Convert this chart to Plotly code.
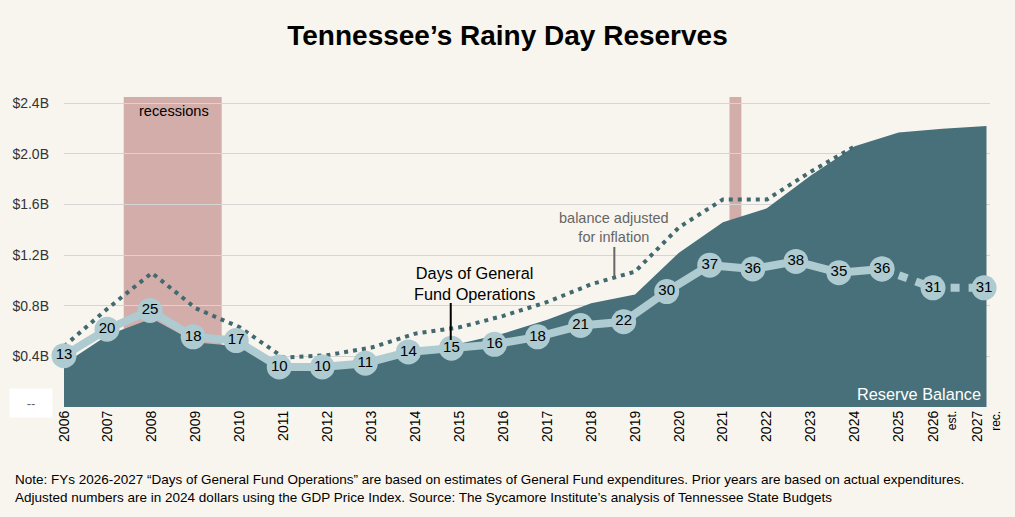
import plotly.graph_objects as go

# ---------------- data ----------------
years = list(range(2006, 2028))
year_labels = [str(y) for y in range(2006, 2026)] + [
    "2026<br><span style='font-size:12px'>est.</span>",
    "2027<br><span style='font-size:12px'>rec.</span>",
]
reserve_balance = [0.34, 0.57, 0.70, 0.51, 0.48, 0.32, 0.32, 0.38, 0.45, 0.50,
                   0.58, 0.69, 0.82, 0.89, 1.22, 1.46, 1.57, 1.83, 2.06, 2.17,
                   2.20, 2.22]
inflation_years = list(range(2006, 2025))
inflation_adjusted = [0.48, 0.78, 1.06, 0.78, 0.63, 0.39, 0.41, 0.47, 0.58, 0.63,
                      0.72, 0.83, 0.97, 1.07, 1.42, 1.64, 1.64, 1.86, 2.06]
days_actual_years = list(range(2006, 2026))
days_actual = [13, 20, 25, 18, 17, 10, 10, 11, 14, 15, 16, 18, 21, 22, 30, 37, 36, 38, 35, 36]
days_est_years = [2025, 2026, 2027]
days_est = [36, 31, 31]
recession_starts = [2007.36, 2021.15]
recession_ends = [2009.59, 2021.42]
y_ticks = [0.4, 0.8, 1.2, 1.6, 2.0, 2.4]
y_tick_labels = ["$0.4B", "$0.8B", "$1.2B", "$1.6B", "$2.0B", "$2.4B"]

# ---------------- styles ----------------
BG = "#f8f5ee"
AREA = "#47707a"
DAYS = "#adcbd0"
DOTS = "#41696f"
RECESS = "#d2adaa"
FONT = "Arial, Liberation Sans, sans-serif"

fig = go.Figure()

fig.add_trace(go.Scatter(
    x=years, y=reserve_balance, mode="lines", fill="tozeroy",
    line=dict(width=0, color=AREA), fillcolor=AREA, hoverinfo="skip",
    showlegend=False))

fig.add_trace(go.Scatter(
    x=inflation_years, y=inflation_adjusted, mode="lines",
    line=dict(width=4, color=DOTS, dash="4px,5px"), hoverinfo="skip",
    showlegend=False))

fig.add_trace(go.Scatter(
    x=days_actual_years, y=days_actual, xaxis="x2", yaxis="y2",
    mode="lines+markers+text", text=[str(v) for v in days_actual],
    textposition="middle center", textfont=dict(size=15, color="black", family=FONT),
    line=dict(width=8, color=DAYS), marker=dict(size=25, color=DAYS, line=dict(width=0)),
    cliponaxis=False, hoverinfo="skip", showlegend=False))

fig.add_trace(go.Scatter(
    x=days_est_years, y=days_est, xaxis="x3", yaxis="y2",
    mode="lines+markers+text", text=[str(v) for v in days_est],
    textposition="middle center", textfont=dict(size=15, color="black", family=FONT),
    line=dict(width=8, color=DAYS, dash="9px,9px"),
    marker=dict(size=25, color=DAYS, line=dict(width=0)),
    cliponaxis=False, hoverinfo="skip", showlegend=False))

for s, e in zip(recession_starts, recession_ends):
    fig.add_shape(type="rect", xref="x", yref="y", x0=s, x1=e, y0=0, y1=2.45,
                  fillcolor=RECESS, line=dict(width=0), layer="below")

# pointer lines
fig.add_shape(type="line", xref="x", yref="y", x0=2014.804, x1=2014.804, y0=0.822, y1=0.53,
              line=dict(color="black", width=2), layer="above")
fig.add_shape(type="line", xref="x", yref="y", x0=2018.528, x1=2018.528, y0=1.265, y1=1.028,
              line=dict(color="#666666", width=2), layer="above")

ann = [
    dict(x=2008.506, y=2.34, xref="x", yref="y", text="recessions", showarrow=False,
         font=dict(size=14.6, color="black", family=FONT)),
    dict(x=2018.528, y=1.415, xref="x", yref="y", text="balance adjusted<br>for inflation",
         showarrow=False, font=dict(size=14.5, color="#666666", family=FONT)),
    dict(x=2015.334, y=0.978, xref="x", yref="y", text="Days of General<br>Fund Operations",
         showarrow=False, font=dict(size=16.3, color="black", family=FONT)),
    dict(x=2026.91, y=0.10, xref="x", yref="y", text="Reserve Balance", xanchor="right",
         showarrow=False, font=dict(size=16.3, color="white", family=FONT)),
    dict(x=-0.0354, y=0.0129, xref="paper", yref="paper", text="--", showarrow=False,
         xanchor="center", yanchor="middle",
         width=40, height=26, bgcolor="white", font=dict(size=13, color="#666666", family=FONT)),
    dict(x=-0.0546, y=-0.203, xref="paper", yref="paper", xanchor="left", yanchor="top",
         align="left", showarrow=False,
         text=("Note: FYs 2026-2027 \u201cDays of General Fund Operations\u201d are based on estimates of "
               "General Fund expenditures. Prior years are based on actual expenditures.<br>"
               "Adjusted numbers are in 2024 dollars using the GDP Price Index. Source: The Sycamore "
               "Institute\u2019s analysis of Tennessee State Budgets"),
         font=dict(size=13.5, color="black", family=FONT)),
]

fig.update_layout(
    width=1015, height=517, autosize=False,
    margin=dict(l=61, r=20, t=97, b=110),
    paper_bgcolor=BG, plot_bgcolor=BG,
    font=dict(family=FONT),
    title=dict(text="<b>Tennessee\u2019s Rainy Day Reserves</b>", x=0.5, xref="container",
               y=1 - 35 / 517, yref="container", yanchor="middle", xanchor="center",
               font=dict(size=28, color="black", family=FONT)),
    xaxis=dict(range=[2006, 2027.08], tickvals=years, ticktext=year_labels, tickangle=-90,
               showgrid=False, zeroline=False, showline=False, ticks="",
               tickfont=dict(size=14, color="black", family=FONT)),
    xaxis2=dict(range=[2006, 2027.51], overlaying="x", visible=False),
    xaxis3=dict(range=[2008.98, 2027.116], overlaying="x", visible=False),
    yaxis=dict(range=[0, 2.45], tickvals=y_ticks, ticktext=y_tick_labels,
               showgrid=True, gridcolor="#d5d5d5", gridwidth=1, zeroline=False,
               showline=False, ticks="", ticklabelstandoff=14,
               tickfont=dict(size=14, color="#333333", family=FONT)),
    yaxis2=dict(range=[-0.61, 81.6], overlaying="y", visible=False),
    annotations=ann,
    showlegend=False,
)

fig.write_html("out.html")
